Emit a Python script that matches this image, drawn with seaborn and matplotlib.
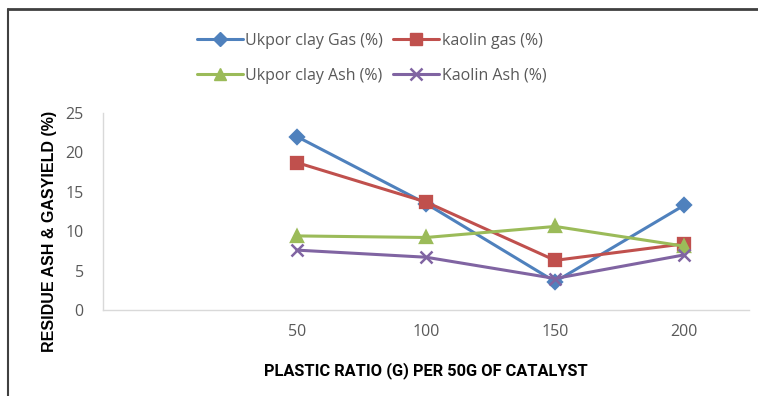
import pandas as pd
import matplotlib.pyplot as plt
import seaborn as sns
from matplotlib.lines import Line2D

ratios = ['50', '100', '150', '200']
ukpor_gas = [22.0, 13.5, 3.6, 13.3]
kaolin_gas = [18.7, 13.7, 6.3, 8.4]
ukpor_ash = [9.4, 9.2, 10.6, 8.1]
kaolin_ash = [7.6, 6.7, 4.0, 7.0]

series = ['Ukpor clay Gas (%)', 'kaolin gas (%)', 'Ukpor clay Ash (%)', 'Kaolin Ash (%)']
colors = ['#4F81BD', '#C0504D', '#9BBB59', '#8064A2']
markers = ['D', 's', '^', 'x']
sizes = [7, 9, 8, 8]

df = pd.concat([
    pd.DataFrame({'ratio': ratios, 'value': vals, 'series': name})
    for name, vals in zip(series, [ukpor_gas, kaolin_gas, ukpor_ash, kaolin_ash])
], ignore_index=True)

sns.set_style('white')
plt.rcParams['font.family'] = ['Open Sans', 'DejaVu Sans']

fig = plt.figure(figsize=(7.58, 3.96), dpi=100)
ax = fig.add_axes([0.136, 0.217, 0.852, 0.498])

order = [''] + ratios
sns.pointplot(data=df, x='ratio', y='value', hue='series', order=order,
              hue_order=series, palette=colors, markers=markers,
              errorbar=None, linewidth=2.2, markersize=7, ax=ax, legend=False)

# tweak marker sizes per series
for line, ms, c in zip(ax.lines, sizes, colors):
    line.set_markersize(ms)
    line.set_markeredgecolor(c)
    if line.get_marker() == 'x':
        line.set_markeredgewidth(1.8)

ax.set_xlim(-0.5, 4.5)
ax.set_ylim(0, 25)
ax.set_yticks([0, 5, 10, 15, 20, 25])
ax.tick_params(axis='both', length=0, labelsize=11.5, labelcolor='#595959')
ax.tick_params(axis='x', pad=10)
ax.tick_params(axis='y', pad=14)
for s in ['top', 'right']:
    ax.spines[s].set_visible(False)
for s in ['left', 'bottom']:
    ax.spines[s].set_color('#D9D9D9')
    ax.spines[s].set_linewidth(1)

ax.set_xlabel('PLASTIC RATIO (G) PER 50G OF CATALYST', fontsize=11.8,
              fontweight='bold', color='#000000', labelpad=16,
              family=['Roboto', 'DejaVu Sans'])
ax.set_ylabel('RESIDUE ASH & GASYIELD (%)', fontsize=11.5, fontweight='bold',
              color='#000000', family=['Liberation Sans', 'DejaVu Sans'])
ax.yaxis.set_label_coords(-0.072, 0.40)

handles = [Line2D([], [], color=c, marker=m, markersize=ms, linewidth=2.2,
                  markeredgewidth=1.8 if m == 'x' else 1)
           for c, m, ms in zip(colors, markers, sizes)]
leg_order = [0, 2, 1, 3]
fig.legend([handles[i] for i in leg_order], [series[i] for i in leg_order],
           ncol=2, loc='center', bbox_to_anchor=(0.49, 0.853), frameon=False,
           fontsize=11.5, labelcolor='#595959', handlelength=2.9,
           handletextpad=0.15, columnspacing=0.6, labelspacing=1.2)

# chart frame (top and left edges)
fig.add_artist(Line2D([0.011, 1.0], [0.978, 0.978], color='#404040', linewidth=2,
                      transform=fig.transFigure))
fig.add_artist(Line2D([0.011, 0.011], [0.0, 0.978], color='#404040', linewidth=1.5,
                      transform=fig.transFigure))

fig.savefig('out.png', dpi=100)
